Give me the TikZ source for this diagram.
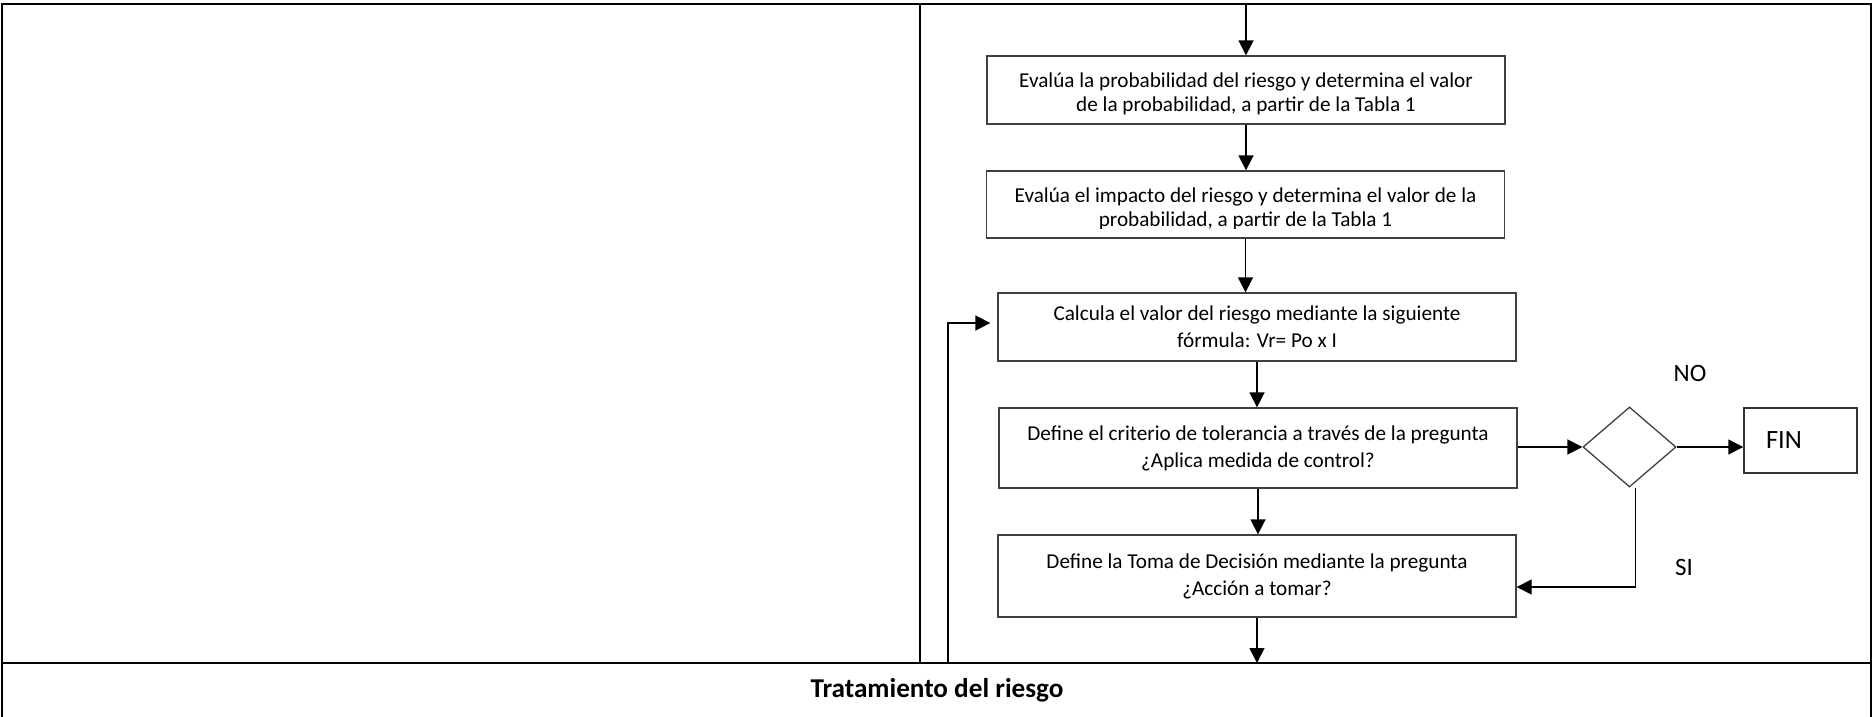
\documentclass[tikz,border=0pt]{standalone}
\usepackage{fontspec}
\setmainfont{Carlito}
\usetikzlibrary{shapes.geometric,arrows.meta,positioning,calc}

\begin{document}
\begin{tikzpicture}[
  x=0.5pt, y=-0.5pt,
  stepbox/.style={rectangle, draw=black!75, line width=0.65pt, minimum width=259pt, inner sep=0pt, align=center, font=\fontsize{10.6}{13.5}\selectfont},
  boxtext/.style={inner sep=0pt, align=center, font=\fontsize{10.6}{12}\selectfont},
  decision/.style={diamond, draw=black!75, line width=0.65pt, minimum width=46.5pt, minimum height=40pt, inner sep=0pt},
  endbox/.style={rectangle, draw=black!80, line width=0.75pt, minimum height=32.5pt, text width=34.5pt, inner xsep=11pt, align=left, font=\fontsize{13.2}{15}\selectfont},
  flow/.style={-{Triangle[length=7.5pt,width=7.5pt]}, line width=0.8pt},
  frame/.style={line width=1pt},
  answer/.style={font=\fontsize{12.5}{15}\selectfont}
]
  \useasboundingbox (0,0) rectangle (1874,717);
  % table lines
  \draw[frame] (2,717) -- (2,4.5) -- (1871,4.5) -- (1871,717);
  \draw[frame] (920,4.5) -- (920,663);
  \draw[frame] (2,663) -- (1871,663);
  \coordinate (topline) at (0,4.5);
  \coordinate (sepline) at (0,663);
  \coordinate (loopin) at (948,663);

  % steps (the first two boxes cut off the lower line of their text)
  \node[stepbox, minimum height=34pt] (b1) at (1246,90) {};
  \node[stepbox, minimum height=33.5pt] (b2) at (1245.5,204.5) {};
  \begin{scope}
    \clip (b1.north west) rectangle ($(b1.south east)+(0,-10)$);
    \node[boxtext] (t1) at ($(b1.center)+(0,4)$) {Evalúa la probabilidad del riesgo y determina el valor\\de la probabilidad, a partir de la Tabla 1};
  \end{scope}
  \begin{scope}
    \clip (b2.north west) rectangle ($(b2.south east)+(0,-10)$);
    \node[boxtext] (t2) at ($(b2.center)+(0,4)$) {Evalúa el impacto del riesgo y determina el valor de la\\probabilidad, a partir de la Tabla 1};
  \end{scope}
  \node[stepbox, minimum height=34pt] (b3) at (1257,327) {Calcula el valor del riesgo mediante la siguiente\\fórmula: Vr= Po x I};
  \node[stepbox, minimum height=40pt] (b4) at (1258,448) {Define el criterio de tolerancia a través de la pregunta\\¿Aplica medida de control?};
  \node[stepbox, minimum height=41pt] (b5) at (1257,576) {Define la Toma de Decisión mediante la pregunta\\¿Acción a tomar?};
  \node[decision] (dia) at (1629.5,447) {};
  \node[endbox] (fin) at (1800.5,440.5) {FIN};
  \node[answer] (no) at (1690,373) {NO};
  \node[answer] (si) at (1684,567) {SI};
  \node[font=\fontsize{13.6}{16}\selectfont\bfseries] (title) at (937,690) {Tratamiento del riesgo};

  % connectors
  \draw[flow] (b1.north |- topline) -- (b1.north);
  \draw[flow] (b1.south) -- (b1.south |- b2.north);
  \draw[flow] (b2.south) -- (b2.south |- b3.north);
  \draw[flow] (b3.south) -- (b3.south |- b4.north);
  \draw[flow] (b4.south) -- (b4.south |- b5.north);
  \draw[flow] (b5.south) -- (b5.south |- sepline);
  \draw[flow] (b4.east |- dia.west) -- (dia.west);
  \draw[flow] (dia.east) -- (dia.east -| fin.west);
  \draw[flow, line width=0.6pt] ($(dia.south)+(6,0)$) |- ($(b5.east)+(0,11)$);
  \draw[flow] (loopin) |- ($(b3.west)+(-7,-4)$);
\end{tikzpicture}
\end{document}
